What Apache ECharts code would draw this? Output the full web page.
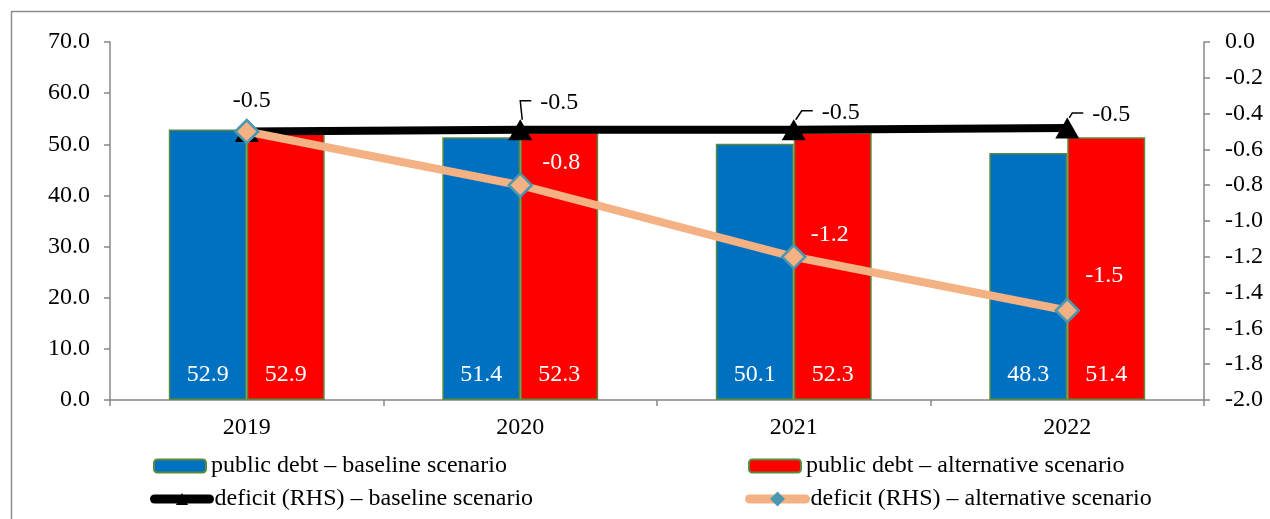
<!DOCTYPE html>
<html>
<head>
<meta charset="utf-8">
<title>Public debt and deficit scenarios</title>
<script src="https://cdn.jsdelivr.net/npm/echarts@6/dist/echarts.min.js"></script>
<style>
  html, body { margin: 0; padding: 0; background: #ffffff; }
  #chart { width: 1270px; height: 519px; }
</style>
</head>
<body>
<div id="chart"></div>
<script>
// Years on the category axis
const years = ['2019', '2020', '2021', '2022'];

// Public debt, % of GDP (left axis)
const debtBaseline = [52.9, 51.4, 50.1, 48.3];
const debtAlternative = [52.9, 52.3, 52.3, 51.4];

// Deficit, % of GDP (right axis)
const deficitBaseline = [-0.50, -0.49, -0.49, -0.48];
const deficitAlternative = [-0.5, -0.8, -1.2, -1.5];

// Series names shown in the legend
const names = [
  'public debt \u2013 baseline scenario',
  'public debt \u2013 alternative scenario',
  'deficit (RHS) \u2013 baseline scenario',
  'deficit (RHS) \u2013 alternative scenario'
];

const FONT = "'Liberation Serif', 'Times New Roman', serif";
const FS = 24;
const AXIS_GREY = '#888888';
const BAR_EDGE = '#5b8a3c';
const ORANGE = '#f4b183';
const TEAL = '#4a98b0';

// label placement for the line series (pixel offsets from each point)
const baseLabelShift = [[5, -31], [39, -27], [47, -17], [44, -13]];
const altLabelShift = [null, [41, -22], [36, -22], [37, -35]];

const chart = echarts.init(document.getElementById('chart'), null, { renderer: 'canvas' });

const barSeries = (name, values, color) => ({
  name: name,
  type: 'bar',
  yAxisIndex: 0,
  data: values,
  barGap: '0%',
  barCategoryGap: '43%',
  z: 2,
  itemStyle: { color: color, borderColor: BAR_EDGE, borderWidth: 1.5 },
  label: {
    show: true,
    position: 'insideBottom',
    distance: 13,
    color: '#ffffff',
    fontFamily: FONT,
    fontSize: FS,
    formatter: (p) => p.value.toFixed(1)
  }
});

const baseLineData = deficitBaseline.map((v, i) => ({
  value: v,
  label: { offset: baseLabelShift[i] }
}));

const altLineData = deficitAlternative.map((v, i) => (
  altLabelShift[i]
    ? { value: v, label: { offset: altLabelShift[i] } }
    : { value: v, label: { show: false } }
));

const legendCommon = {
  orient: 'horizontal',
  padding: 0,
  itemGap: 0,
  selectedMode: false,
  textStyle: { color: '#000000', fontFamily: FONT, fontSize: FS }
};

const option = {
  backgroundColor: '#ffffff',
  animation: false,
  graphic: [{
    type: 'rect',
    silent: true,
    shape: { x: 11.5, y: 11.5, width: 1300, height: 600 },
    style: { fill: 'none', stroke: '#8c8c8c', lineWidth: 1.5 }
  }],
  grid: { left: 110, right: 66, top: 42, bottom: 119 },
  legend: [
    Object.assign({}, legendCommon, {
      left: 153, top: 454, itemWidth: 52, itemHeight: 13,
      data: [names[0]]
    }),
    Object.assign({}, legendCommon, {
      left: 748, top: 454, itemWidth: 52, itemHeight: 13,
      data: [names[1]]
    }),
    Object.assign({}, legendCommon, {
      left: 150, top: 487, itemWidth: 55, itemHeight: 15,
      data: [{ name: names[2], lineStyle: { width: 9, cap: 'round', color: '#000000' } }]
    }),
    Object.assign({}, legendCommon, {
      left: 745, top: 487, itemWidth: 56, itemHeight: 15,
      data: [{
        name: names[3],
        itemStyle: { color: TEAL, borderColor: TEAL },
        lineStyle: { width: 9, cap: 'round', color: ORANGE }
      }]
    })
  ],
  xAxis: {
    type: 'category',
    data: years,
    boundaryGap: true,
    axisLine: { lineStyle: { color: AXIS_GREY, width: 1.5 } },
    axisTick: { show: true, length: 6, alignWithLabel: false, lineStyle: { color: AXIS_GREY, width: 1.5 } },
    axisLabel: { color: '#000000', fontFamily: FONT, fontSize: FS, margin: 16 },
    splitLine: { show: false }
  },
  yAxis: [
    {
      type: 'value',
      position: 'left',
      min: 0,
      max: 70,
      interval: 10,
      axisLine: { show: true, lineStyle: { color: AXIS_GREY, width: 1.5 } },
      axisTick: { show: true, length: 6, lineStyle: { color: AXIS_GREY, width: 1.5 } },
      axisLabel: {
        color: '#000000', fontFamily: FONT, fontSize: FS, margin: 20,
        formatter: (v) => v.toFixed(1)
      },
      splitLine: { show: false }
    },
    {
      type: 'value',
      position: 'right',
      min: -2,
      max: 0,
      interval: 0.2,
      axisLine: { show: true, lineStyle: { color: AXIS_GREY, width: 1.5 } },
      axisTick: { show: true, length: 6, lineStyle: { color: AXIS_GREY, width: 1.5 } },
      axisLabel: {
        color: '#000000', fontFamily: FONT, fontSize: FS, margin: 21,
        formatter: (v) => (Math.abs(v) < 1e-9 ? 0 : v).toFixed(1)
      },
      splitLine: { show: false }
    }
  ],
  series: [
    barSeries(names[0], debtBaseline, '#0070c0'),
    barSeries(names[1], debtAlternative, '#ff0000'),
    {
      name: names[2],
      type: 'line',
      yAxisIndex: 1,
      data: baseLineData,
      z: 3,
      symbol: 'triangle',
      symbolSize: [24, 21],
      showAllSymbol: true,
      lineStyle: { color: '#000000', width: 8 },
      itemStyle: { color: '#000000', borderColor: '#000000', borderWidth: 0 },
      label: {
        show: true,
        position: 'inside',
        align: 'center',
        verticalAlign: 'middle',
        color: '#000000',
        fontFamily: FONT,
        fontSize: FS,
        formatter: (p) => p.value.toFixed(1)
      },
      emphasis: { disabled: true }
    },
    {
      name: names[3],
      type: 'line',
      yAxisIndex: 1,
      data: altLineData,
      z: 4,
      symbol: 'diamond',
      symbolSize: 23,
      showAllSymbol: true,
      lineStyle: { color: ORANGE, width: 8 },
      itemStyle: { color: ORANGE, borderColor: TEAL, borderWidth: 2.5 },
      label: {
        show: true,
        position: 'inside',
        align: 'center',
        verticalAlign: 'middle',
        color: '#ffffff',
        fontFamily: FONT,
        fontSize: FS,
        formatter: (p) => p.value.toFixed(1)
      },
      emphasis: { disabled: true }
    },
    {
      // callout leaders joining the baseline deficit markers to their labels
      name: 'leaders',
      type: 'custom',
      yAxisIndex: 1,
      z: 5,
      silent: true,
      data: deficitBaseline.map((v, i) => [i, v]),
      encode: { x: 0, y: 1 },
      renderItem: (params, api) => {
        const i = params.dataIndex;
        if (i === 0) return null;
        const p = api.coord([api.value(0), api.value(1)]);
        const lx = p[0] + baseLabelShift[i][0];
        const ly = p[1] + baseLabelShift[i][1] - 2;
        return {
          type: 'polyline',
          shape: { points: [[p[0] + 2, p[1] - 10], [lx - 39, ly], [lx - 28, ly]] },
          style: { fill: 'none', stroke: '#000000', lineWidth: 1.5 }
        };
      }
    }
  ]
};

chart.setOption(option);
</script>
</body>
</html>
